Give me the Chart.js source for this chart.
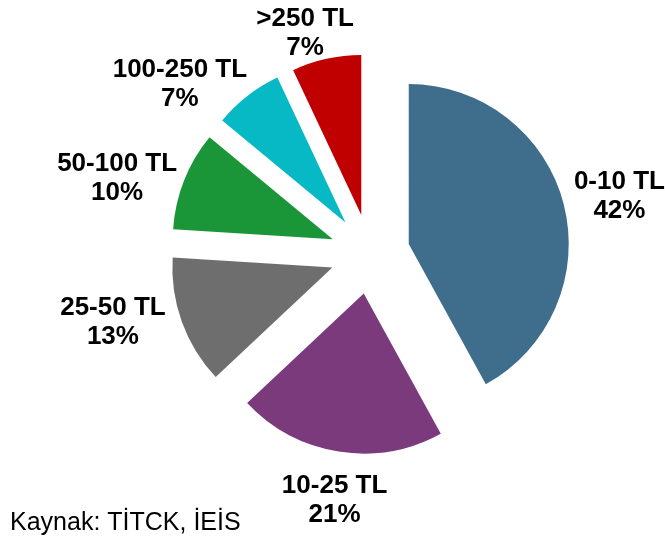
<!DOCTYPE html>
<html>
<head>
<meta charset="utf-8">
<script src="https://cdn.jsdelivr.net/npm/chart.js@4/dist/chart.umd.min.js"></script>
<style>
  body { margin: 0; background: #fff; }
  #wrap { position: relative; width: 665px; height: 543px; }
</style>
</head>
<body>
<div id="wrap"><canvas id="price-chart"></canvas></div>
<script>
// price bands and their share of boxes (%)
const bands = ["0-10 TL", "10-25 TL", "25-50 TL", "50-100 TL", "100-250 TL", ">250 TL"];
const shares = [42, 21, 13, 10, 7, 7];
const sliceColors = ['#3F6E8C', '#7A3A7C', '#6E6E6E', '#1A9639', '#07B8C5', '#C00000'];
const sourceNote = "Kaynak: TİTCK, İEİS";

// how far every slice is pulled out (px) and the pie radius
const explode = 40;
const pieRadius = 160;

// small hand nudges for the labels (px), like the moved labels in the original
const labelNudge = [[0, 3], [6, 7], [-8, -14], [0, 13], [-19, 22], [-8, 15]];

const labelFont = 'bold 26px "Liberation Sans", Arial, sans-serif';

// pie center as the controller places it
function pieCenter(chart) {
    const a = chart.chartArea;
    const ctrl = chart.getDatasetMeta(0).controller;
    return { x: (a.left + a.right) / 2 + ctrl.offsetX, y: (a.top + a.bottom) / 2 + ctrl.offsetY };
}

// v4's own "offset" also shrinks the slice angle, so pull each slice out
// along its mid angle here instead (same distance for every slice)
const evenExplode = {
    id: 'evenExplode',
    afterDatasetsUpdate(chart) {
        const c = pieCenter(chart);
        chart.getDatasetMeta(0).data.forEach(arc => {
            const mid = (arc.startAngle + arc.endAngle) / 2;
            arc.x = c.x + Math.cos(mid) * explode;
            arc.y = c.y + Math.sin(mid) * explode;
        });
    }
};

// draws "band / xx%" outside each slice
const sliceLabels = {
    id: 'sliceLabels',
    afterDatasetsDraw(chart) {
        const ctx = chart.ctx;
        const meta = chart.getDatasetMeta(0);
        const c = pieCenter(chart);
        ctx.save();
        ctx.font = labelFont;
        ctx.fillStyle = '#000';
        ctx.textAlign = 'center';
        ctx.textBaseline = 'middle';
        meta.data.forEach((arc, i) => {
            const mid = (arc.startAngle + arc.endAngle) / 2;
            const dx = Math.cos(mid), dy = Math.sin(mid);
            const d = arc.outerRadius + explode + 12;
            const w = ctx.measureText(bands[i]).width;
            const h = 60;
            const cx = c.x + d * dx + dx * w / 2 + labelNudge[i][0];
            const cy = c.y + d * dy + dy * h / 2 + labelNudge[i][1];
            ctx.fillText(bands[i], cx, cy - 14.5);
            ctx.fillText(shares[i] + '%', cx, cy + 14.5);
        });
        // source line bottom left
        ctx.font = '25px "Liberation Sans", Arial, sans-serif';
        ctx.textAlign = 'left';
        ctx.textBaseline = 'alphabetic';
        ctx.fillText(sourceNote, 10, 530);
        ctx.restore();
    }
};

const priceCanvas = document.getElementById("price-chart");

const priceData = {
    labels: bands,
    datasets: [{
        data: shares,
        backgroundColor: sliceColors,
        borderWidth: 0
    }]
};

const priceOptions = {
    responsive: true,
    maintainAspectRatio: false,
    animation: false,
    events: [],
    radius: pieRadius,
    layout: {
        padding: { left: 75, right: 0, top: 0, bottom: 35 }
    },
    plugins: {
        legend: { display: false },
        tooltip: { enabled: false }
    }
};

const priceChart = new Chart(priceCanvas, {
    type: 'pie',
    data: priceData,
    options: priceOptions,
    plugins: [evenExplode, sliceLabels]
});
</script>
</body>
</html>
